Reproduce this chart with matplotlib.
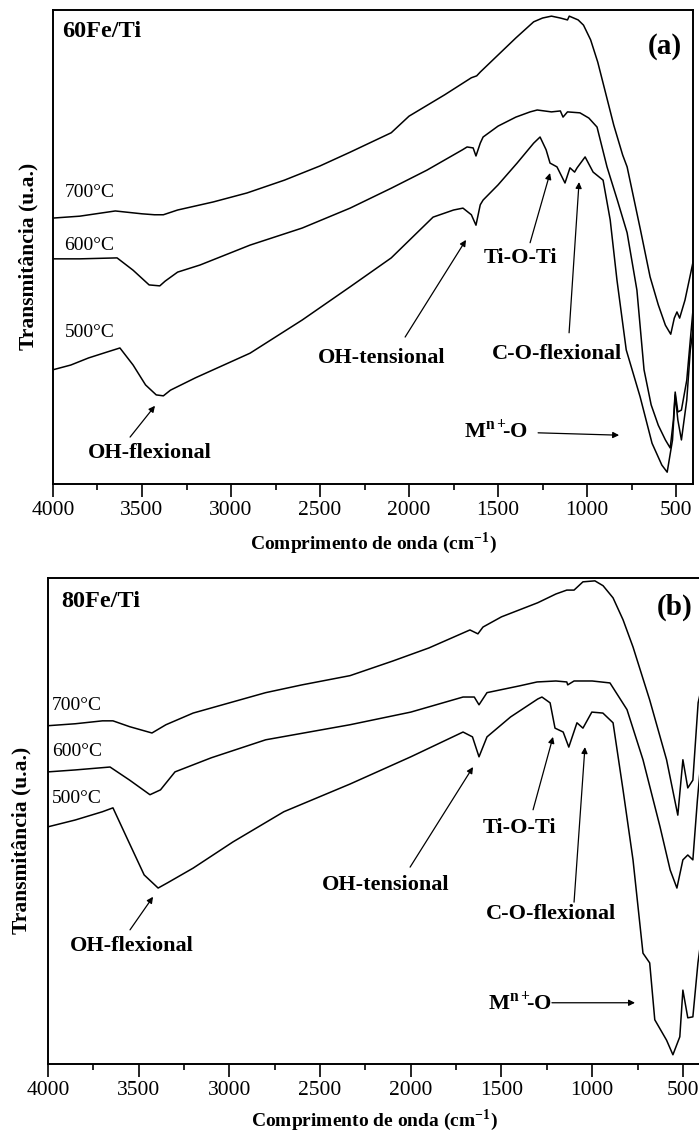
import matplotlib
matplotlib.use('Agg')

import matplotlib.pyplot as plt
from matplotlib.ticker import MultipleLocator

plt.rcParams['font.family'] = ['Liberation Serif', 'DejaVu Serif']
plt.rcParams['mathtext.fontset'] = 'custom'
plt.rcParams['mathtext.rm'] = 'Liberation Serif'
plt.rcParams['mathtext.bf'] = 'Liberation Serif:bold'

# 60Fe/Ti spectra (wavenumber cm-1, transmittance u.a.)
wn_60_700 = [4000, 3850, 3650, 3500, 3430, 3380, 3300, 3100, 2910, 2700, 2500, 2331, 2100, 2000, 1800,
             1650, 1620, 1600, 1500, 1400, 1300, 1250, 1200, 1150, 1110, 1100, 1050, 1020, 980, 940,
             900, 850, 800, 775, 700, 646, 600, 560, 530, 510, 495, 480, 450, 420, 405]
t_60_700 = [56.1, 56.5, 57.6, 57.0, 56.8, 56.8, 57.8, 59.5, 61.4, 64.1, 67.1, 70.0, 74.1, 77.6, 82.1,
            85.7, 86.1, 86.9, 90.5, 94.1, 97.5, 98.3, 98.7, 98.3, 97.9, 98.7, 97.9, 96.8, 93.7, 89.0,
            83.1, 75.7, 69.4, 66.9, 53.6, 43.7, 37.8, 33.5, 31.6, 35.0, 36.3, 35.0, 38.8, 44.1, 46.8]

wn_60_600 = [4000, 3850, 3640, 3550, 3460, 3400, 3370, 3300, 3174, 2893, 2600, 2331, 2100, 1900, 1700,
             1674, 1640, 1624, 1600, 1584, 1500, 1400, 1320, 1280, 1200, 1150, 1135, 1110, 1040, 990,
             944, 888, 830, 775, 720, 680, 640, 600, 560, 533, 515, 505, 490, 470, 440, 420, 405]
t_60_600 = [47.5, 47.5, 47.7, 45.1, 42.0, 41.8, 42.8, 44.7, 46.2, 50.4, 54.0, 58.2, 62.4, 66.2, 70.5,
            71.1, 70.9, 69.2, 71.9, 73.2, 75.5, 77.4, 78.5, 78.9, 78.5, 78.7, 77.4, 78.5, 78.3, 77.2,
            75.3, 66.9, 59.9, 53.0, 40.9, 24.1, 16.7, 12.4, 9.3, 7.6, 13.5, 19.4, 15.2, 15.6, 21.9, 30.4, 36.7]

wn_60_500 = [4000, 3900, 3800, 3700, 3624, 3550, 3480, 3420, 3380, 3340, 3200, 2893, 2600, 2331, 2100,
             1865, 1750, 1697, 1650, 1624, 1600, 1584, 1500, 1393, 1300, 1264, 1230, 1208, 1169, 1124,
             1096, 1070, 1056, 1011, 966, 910, 870, 832, 780, 702, 635, 580, 550, 520, 505, 490, 470,
             440, 420, 405]
t_60_500 = [24.1, 25.1, 26.6, 27.8, 28.7, 25.1, 20.9, 18.8, 18.6, 19.8, 22.4, 27.6, 34.6, 41.6, 47.7,
            56.3, 57.8, 58.2, 56.8, 54.6, 58.9, 59.9, 63.1, 67.7, 71.9, 73.2, 70.5, 67.7, 66.9, 63.5,
            66.7, 65.8, 66.7, 69.0, 65.8, 64.1, 55.7, 43.0, 28.3, 18.4, 8.6, 4.0, 2.5, 9.3, 18.8, 13.5, 9.3,
            17.7, 28.3, 32.5]

# 80Fe/Ti spectra
wn_80_700 = [4000, 3850, 3700, 3642, 3550, 3427, 3350, 3200, 3000, 2800, 2600, 2335, 2100, 1900, 1674,
             1630, 1602, 1500, 1300, 1200, 1140, 1100, 1051, 985, 940, 885, 830, 775, 683, 590, 528,
             500, 473, 445, 416, 400]
t_80_700 = [69.6, 70.0, 70.6, 70.6, 69.4, 68.1, 69.8, 72.2, 74.3, 76.4, 78.0, 79.9, 82.9, 85.6, 89.3,
            88.5, 89.9, 92.0, 94.9, 96.7, 97.5, 97.5, 99.2, 99.4, 98.4, 95.9, 91.4, 85.8, 74.9, 62.6, 51.2,
            62.6, 56.8, 58.4, 74.3, 77.0]

wn_80_600 = [4000, 3850, 3658, 3550, 3438, 3380, 3300, 3100, 2800, 2335, 2000, 1712, 1650, 1624, 1580,
             1400, 1304, 1200, 1140, 1135, 1100, 1000, 902, 808, 720, 626, 570, 533, 500, 473, 445,
             420, 400]
t_80_600 = [60.1, 60.5, 61.1, 58.4, 55.4, 56.4, 60.1, 63.0, 66.7, 69.8, 72.4, 75.5, 75.5, 73.9, 76.4,
            77.8, 78.6, 78.8, 78.6, 78.0, 78.8, 78.8, 78.4, 72.9, 62.6, 48.8, 39.9, 36.2, 42.0, 43.0, 42.0,
            54.3, 62.6]

wn_80_500 = [4000, 3850, 3700, 3642, 3560, 3470, 3393, 3340, 3200, 2980, 2700, 2335, 2000, 1712, 1660,
             1624, 1580, 1450, 1300, 1277, 1232, 1205, 1160, 1129, 1084, 1051, 1002, 941, 885, 830, 775,
             720, 683, 655, 590, 555, 517, 500, 473, 445, 417, 400]
t_80_500 = [48.8, 50.2, 51.9, 52.7, 46.1, 38.9, 36.2, 37.3, 40.3, 45.7, 51.9, 57.6, 63.2, 68.3, 67.3,
            63.2, 67.3, 71.4, 75.1, 75.5, 74.3, 69.1, 68.3, 65.2, 70.2, 69.1, 72.4, 72.2, 70.2, 56.4, 42.0,
            22.8, 20.8, 9.1, 4.9, 1.9, 5.6, 15.2, 9.5, 9.7, 20.8, 25.5]

temps = ['700°C', '600°C', '500°C']

fig = plt.figure(figsize=(6.99, 11.33), dpi=100)
ax_a = fig.add_axes([0.0758, 0.5728, 0.9156, 0.4184])
ax_b = fig.add_axes([0.0687, 0.0609, 0.9342, 0.4290])


def style_axes(ax, xmin):
    ax.set_xlim(4000, xmin)
    ax.set_ylim(0, 100)
    ax.set_yticks([])
    ax.xaxis.set_major_locator(MultipleLocator(500))
    ax.xaxis.set_minor_locator(MultipleLocator(250))
    ax.tick_params(axis='x', which='major', direction='out', length=9, width=1.2, labelsize=15.5, pad=3)
    ax.tick_params(axis='x', which='minor', direction='out', length=4, width=1.2)
    for s in ax.spines.values():
        s.set_linewidth(1.4)
    ax.set_xlabel('Comprimento de onda (cm$^{\\mathbf{-1}}$)', fontsize=14, fontweight='bold')
    ax.set_ylabel('Transmitância (u.a.)', fontsize=15.5, fontweight='bold')


def note(ax, text, xy, xytext, text_pos):
    ax.annotate('', xy=xy, xytext=xytext,
                arrowprops=dict(arrowstyle='-|>', color='black', lw=0.9, mutation_scale=9, shrinkA=0, shrinkB=0))
    ax.text(text_pos[0], text_pos[1], text, fontsize=16, fontweight='bold', ha='center', va='center')


# (a) 60Fe/Ti
for wn, t in [(wn_60_700, t_60_700), (wn_60_600, t_60_600), (wn_60_500, t_60_500)]:
    ax_a.plot(wn, t, color='black', lw=1.1)
style_axes(ax_a, 405)
ax_a.xaxis.set_label_coords(0.5, -0.097)
ax_a.yaxis.set_label_coords(-0.022, 0.48)
ax_a.text(0.014, 0.954, '60Fe/Ti', transform=ax_a.transAxes, fontsize=17.5, fontweight='bold', va='center')
ax_a.text(0.956, 0.922, '(a)', transform=ax_a.transAxes, fontsize=21, fontweight='bold', ha='center', va='center')
for lbl, yv in zip(temps, [61.4, 50.4, 31.9]):
    ax_a.text(3935, yv, lbl, fontsize=14, va='center')

mo = 'M$^{\\mathbf{n+}}\\!\\!$-O'
note(ax_a, 'OH-flexional', (3427, 16.5), (3567, 9.9), (3455, 6.5))
note(ax_a, 'OH-tensional', (1680, 51.5), (2022, 31.0), (2152, 26.6))
note(ax_a, 'Ti-O-Ti', (1208, 65.6), (1320, 50.9), (1376, 47.7))
note(ax_a, 'C-O-flexional', (1045, 63.7), (1101, 31.9), (1169, 27.4))
note(ax_a, mo, (820, 10.3), (1275, 10.8), (1511, 11.4))

# (b) 80Fe/Ti
for wn, t in [(wn_80_700, t_80_700), (wn_80_600, t_80_600), (wn_80_500, t_80_500)]:
    ax_b.plot(wn, t, color='black', lw=1.1)
style_axes(ax_b, 400)
ax_b.xaxis.set_label_coords(0.5, -0.089)
ax_b.yaxis.set_label_coords(-0.026, 0.461)
ax_b.text(0.021, 0.951, '80Fe/Ti', transform=ax_b.transAxes, fontsize=17.5, fontweight='bold', va='center')
ax_b.text(0.960, 0.940, '(b)', transform=ax_b.transAxes, fontsize=21, fontweight='bold', ha='center', va='center')
for lbl, yv in zip(temps, [73.7, 64.2, 54.7]):
    ax_b.text(3978, yv, lbl, fontsize=14, va='center')

note(ax_b, 'OH-flexional', (3421, 34.4), (3548, 27.6), (3537, 24.3))
note(ax_b, 'OH-tensional', (1657, 61.1), (2004, 40.5), (2137, 36.8))
note(ax_b, 'Ti-O-Ti', (1216, 67.3), (1326, 52.3), (1398, 48.6))
note(ax_b, 'C-O-flexional', (1040, 65.2), (1100, 33.3), (1227, 30.9))
note(ax_b, mo, (764, 12.6), (1222, 12.6), (1398, 12.6))

fig.savefig('out.png', dpi=100)
